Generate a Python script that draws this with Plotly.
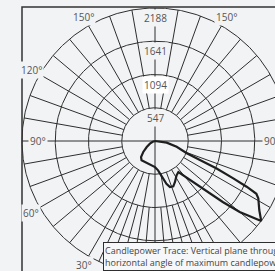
import numpy as np
import plotly.graph_objects as go

# ---------------- data ----------------
ring_values = [547, 1094, 1641, 2188]
ring_labels = ["547", "1094", "1641", "2188"]
angle_label_values = [30, 60, 90, 120, 150]
angle_labels = ["30°", "60°", "90°", "120°", "150°"]

# candlepower trace: angle from nadir (deg, + = right side) and candela
trace_angles = [-90, -70, -62, -54, -47, -41, -35, -25, -12, 0, 6, 9, 12, 15, 18, 22, 26,
                32, 37, 42, 46, 48, 50, 52, 53, 56.5, 61, 62.5, 63.5, 64.5, 66, 67, 69, 75, 82, 90]
trace_candela = [0, 40, 94, 168, 264, 350, 386, 383, 408, 430, 485, 544, 635, 728, 796, 804, 750,
                 668, 640, 862, 1191, 1500, 1819, 2057, 2188, 2057, 1943, 1880, 1685, 1427, 1110, 803, 560, 369, 194, 0]

caption = "Candlepower Trace: Vertical plane through<br>horizontal angle of maximum candlepower"

# ---------------- style / layout ----------------
BG = "#f2f3f5"
GRID = "#2e2e2e"
TXT = "#555555"
FONT = "Open Sans"
W, H = 275, 271
R_PX = 133.0
CX, CY = 155.0, 141.0
k = ring_values[-1] / R_PX  # candela per pixel

def pol(theta_deg, r):
    t = np.radians(np.asarray(theta_deg, dtype=float))
    r = np.asarray(r, dtype=float)
    return r * np.sin(t), -r * np.cos(t)

fig = go.Figure()

# rings
gx, gy = [], []
circ = np.linspace(0, 360, 721)
for v in ring_values:
    x, y = pol(circ, np.full_like(circ, v))
    gx += list(x) + [None]
    gy += list(y) + [None]

# spokes every 10 deg from first ring
rmin, rmax = ring_values[0], ring_values[-1]
for a in range(10, 360, 10):
    if a % 90 == 0:
        continue
    x, y = pol([a, a], [rmin, rmax])
    gx += list(x) + [None]
    gy += list(y) + [None]
# extra 5-degree spokes near nadir from the second ring
for a in [5, 15, 25, -5, -15, -25]:
    x, y = pol([a, a], [ring_values[1], rmax])
    gx += list(x) + [None]
    gy += list(y) + [None]
# main axes through centre
for a in [0, 90]:
    x, y = pol([a, a + 180], [rmax, rmax])
    gx += list(x) + [None]
    gy += list(y) + [None]

fig.add_trace(go.Scatter(x=gx, y=gy, mode="lines",
                         line=dict(color=GRID, width=1), hoverinfo="skip", showlegend=False))

tx, ty = pol(trace_angles, trace_candela)
fig.add_trace(go.Scatter(x=tx, y=ty, mode="lines",
                         line=dict(color="#1e1e1e", width=2.2),
                         hoverinfo="skip", showlegend=False))

annotations = []
# ring labels
for v, lbl in zip(ring_values, ring_labels):
    annotations.append(dict(x=0, y=v - 10 * k, xref="x", yref="y", text=lbl, showarrow=False,
                            font=dict(family=FONT, size=10, color=TXT),
                            bgcolor="#ffffff" if lbl == "1094" else BG, borderpad=1,
                            xanchor="center", yanchor="middle"))
# angle labels (right-hand 30° sits under the caption box, so it is not drawn)
for a, lbl in zip(angle_label_values, angle_labels):
    rr = (117 if a == 90 else 143) * k
    for s in (-1, 1):
        if s == 1 and a == 30:
            continue
        x, y = pol(s * a, rr)
        annotations.append(dict(x=float(x), y=float(y), xref="x", yref="y", text=lbl, showarrow=False,
                                font=dict(family=FONT, size=10, color=TXT),
                                bgcolor=BG, borderpad=1, xanchor="center", yanchor="middle"))
# caption box
annotations.append(dict(x=103 / W, y=1 - 242 / H, xref="paper", yref="paper", text=caption,
                        showarrow=False, align="left", xanchor="left", yanchor="top",
                        font=dict(family=FONT, size=9, color="#444444"),
                        bgcolor="#f6f7f8", bordercolor=GRID, borderwidth=1, borderpad=1))

fig.update_layout(
    width=W, height=H, margin=dict(l=0, r=0, t=0, b=0),
    paper_bgcolor=BG, plot_bgcolor=BG,
    xaxis=dict(range=[-CX * k, (W - CX) * k], visible=False, fixedrange=True),
    yaxis=dict(range=[-(H - CY) * k, CY * k], visible=False, fixedrange=True),
    annotations=annotations,
    shapes=[dict(type="rect", xref="paper", yref="paper", x0=22 / W, x1=1.6,
                 y0=-0.5, y1=1 - 7 / H, line=dict(color="#333333", width=1.5))],
)

fig.write_html("out.html", config={"displayModeBar": False},
               post_script="document.body.style.margin='0';document.body.style.overflow='hidden';document.body.style.background='%s';" % BG)
